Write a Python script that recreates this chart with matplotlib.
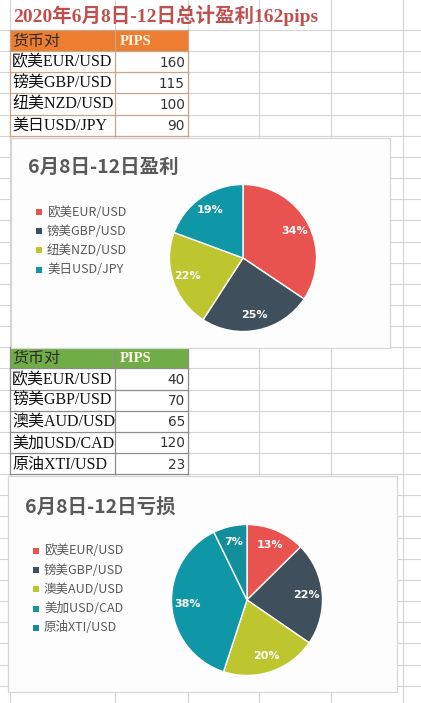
import matplotlib.pyplot as plt
from matplotlib.patches import Rectangle

W, H = 421, 703

sheet_title = "2020年6月8日-12日总计盈利162pips"
header = ["货币对", "PIPS"]

win_pairs = ["欧美EUR/USD", "镑美GBP/USD", "纽美NZD/USD", "美日USD/JPY"]
win_pips = [160, 115, 100, 90]
win_title = "6月8日-12日盈利"
win_colors = ["#E9534F", "#3F4F5B", "#BDC62F", "#1097A7"]

loss_pairs = ["欧美EUR/USD", "镑美GBP/USD", "澳美AUD/USD", "美加USD/CAD", "原油XTI/USD"]
loss_pips = [40, 70, 65, 120, 23]
loss_title = "6月8日-12日亏损"
loss_colors = ["#E9534F", "#3F4F5B", "#BDC62F", "#1097A7", "#138E9C"]

SERIF = ["Liberation Serif", "Noto Sans CJK SC"]
SANS = ["Noto Sans CJK SC", "DejaVu Sans"]

fig = plt.figure(figsize=(W / 100, H / 100), dpi=100)
fig.patch.set_facecolor("white")
ax = fig.add_axes([0, 0, 1, 1])
ax.set_xlim(0, W)
ax.set_ylim(H, 0)
ax.axis("off")

# spreadsheet grid
col_x = [10, 115, 188, 259, 331, 403]
row_h = 21.15
for x in col_x:
    ax.plot([x, x], [0, H], color="#D4D4D4", lw=0.8, zorder=1)
for k in range(0, 34):
    y = 30 + row_h * k
    ax.plot([0, W], [y, y], color="#D4D4D4", lw=0.8, zorder=1)

# sheet title
ax.text(13, 16, sheet_title, fontsize=14, fontweight="bold", color="#C0504D",
        family=SERIF, ha="left", va="center", zorder=5)


def draw_table(top, pairs, pips, head_color, line_color):
    ax.add_patch(Rectangle((10, top), 178, row_h, facecolor=head_color,
                           edgecolor="none", zorder=3))
    ax.text(12, top + row_h / 2 + 1, header[0], fontsize=11.5, color="#2B2B2B",
            family=SERIF, ha="left", va="center", zorder=5)
    ax.text(136, top + row_h / 2 + 1, header[1], fontsize=10.5, color="#FFF8E8",
            fontweight="bold", family=SERIF, ha="center", va="center", zorder=5)
    for i, (name, val) in enumerate(zip(pairs, pips)):
        y0 = top + row_h * (i + 1)
        ax.add_patch(Rectangle((10, y0), 178, row_h, facecolor="white",
                               edgecolor="none", zorder=3))
        ax.text(12, y0 + row_h / 2 + 1, name, fontsize=11.5, color="#111111",
                family=SERIF, ha="left", va="center", zorder=5)
        ax.text(185, y0 + row_h / 2 + 1, str(val), fontsize=9.8, color="#333333",
                family="DejaVu Sans", ha="right", va="center", zorder=5)
    bottom = top + row_h * (len(pairs) + 1)
    for i in range(len(pairs) + 2):
        y = top + row_h * i
        ax.plot([10, 188], [y, y], color=line_color, lw=0.9, zorder=4)
    for x in (10, 115, 188):
        ax.plot([x, x], [top, bottom], color=line_color, lw=0.9, zorder=4)


draw_table(30, win_pairs, win_pips, "#ED7D31", "#C9A486")
draw_table(347.3, loss_pairs, loss_pips, "#70AD47", "#8C8C8C")


def draw_chart(box, title, pairs, pips, colors, center, radius, title_y, leg_y):
    bx, by, bw, bh = box
    ax.add_patch(Rectangle((bx + 1, by + 1), bw, bh, facecolor="#ECECEC",
                           edgecolor="none", zorder=5))
    ax.add_patch(Rectangle((bx, by), bw, bh, facecolor="#FDFDFD",
                           edgecolor="#D6D6D6", lw=0.9, zorder=6))
    ax.text(bx + 17, title_y, title, fontsize=14, fontweight="bold",
            color="#595959", family=SANS, ha="left", va="center", zorder=7)
    for i, (name, c) in enumerate(zip(pairs, colors)):
        y = leg_y + 19.2 * i
        ax.add_patch(Rectangle((bx + 25, y - 3), 6, 6, facecolor=c,
                               edgecolor="none", zorder=7))
        ax.text(bx + 36, y, name, fontsize=9, color="#595959",
                family=SANS, ha="left", va="center", zorder=7)

    cx, cy = center
    pax = fig.add_axes([(cx - radius) / W, 1 - (cy + radius) / H,
                        2 * radius / W, 2 * radius / H])
    pax.pie(pips, colors=colors, startangle=90, counterclock=False,
            autopct=lambda p: f"{p:.0f}%", pctdistance=0.79,
            wedgeprops=dict(edgecolor="white", linewidth=1.0),
            textprops=dict(color="white", fontsize=8, fontweight="bold",
                           family=["Liberation Sans Narrow", "DejaVu Sans"]))
    pax.set_xlim(-1.02, 1.02)
    pax.set_ylim(-1.02, 1.02)
    pax.set_aspect("equal")
    pax.axis("off")


draw_chart((11, 138, 379, 210), win_title, win_pairs, win_pips, win_colors,
           (243, 258), 75, 167, 212)
draw_chart((8, 476, 389, 216), loss_title, loss_pairs, loss_pips, loss_colors,
           (247, 600), 77, 507, 551)

fig.savefig("out.png", dpi=100)
